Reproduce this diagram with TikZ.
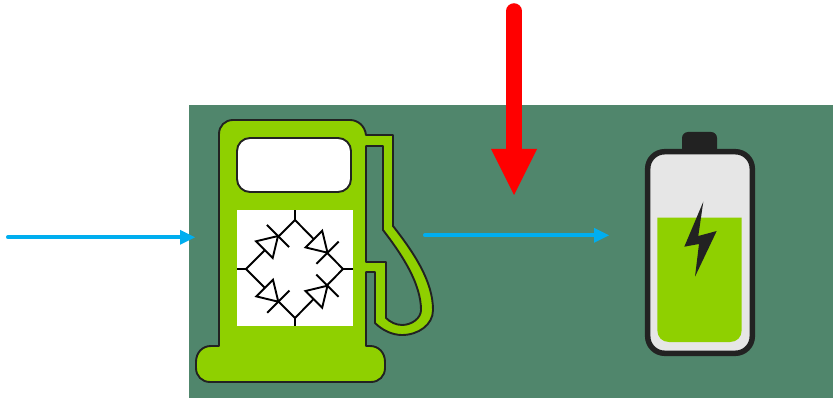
\documentclass[tikz,border=0pt]{standalone}
\usepackage{xcolor}
\usepackage{tikz}
\usetikzlibrary{arrows.meta}
\definecolor{panelgreen}{HTML}{50866C}
\definecolor{pumpgreen}{HTML}{8FD000}
\definecolor{outlinegray}{HTML}{222222}
\definecolor{cellgray}{HTML}{E6E6E6}
\definecolor{flowblue}{HTML}{00AEEF}
\tikzset{
    x=1pt, y=-1pt,
    pumpline/.style={draw=outlinegray, line width=1.9pt, line join=round},
    wire/.style={draw=black, line width=1.9pt},
    flow/.style={-{Triangle[length=15pt, width=15pt, line width=0pt]}, line width=4pt, draw=flowblue, line cap=round},
    heatflow/.style={-{Triangle[length=46pt, width=46pt, line width=0pt]}, line width=15.5pt, draw=red, line cap=round},
    diode/.pic={
        \draw[wire, fill=white, line join=miter] (0,0) -- (-19.3,11.8) -- (-19.3,-11.8) -- cycle;
        \draw[wire] (0,-15.7) -- (0,15.7);
    }
}
\begin{document}
\begin{tikzpicture}
    \useasboundingbox (0,0) rectangle (833,398);
    \fill[panelgreen] (189,105) rectangle (833,398);

    % pump
    \draw[pumpline, fill=pumpgreen] (219,346) -- (219,134) .. controls (219,126) and (225,120) .. (233,120)
        -- (350,120) .. controls (358,120) and (365,126) .. (366,135) -- (393,135) -- (393,226)
        .. controls (415,254) and (433,282) .. (433,310) .. controls (433,325) and (418,335) .. (402,335)
        .. controls (392,335) and (382,330) .. (375,323) -- (375,272) -- (366,272) -- (366,346)
        -- (370,346) .. controls (379,346) and (385,353) .. (385,362) -- (385,368) .. controls (385,376) and (379,382) .. (371,382)
        -- (210,382) .. controls (202,382) and (196,376) .. (196,368) -- (196,362) .. controls (196,353) and (202,346) .. (211,346) -- cycle;
    \draw[pumpline, fill=panelgreen] (366,146) -- (383,146) -- (383,230)
        .. controls (403,256) and (421,284) .. (421,310) .. controls (421,318) and (412,325) .. (402,325)
        .. controls (396,325) and (390,322) .. (386,318) -- (386,262) -- (366,262) -- cycle;
    \draw[pumpline, fill=white, rounded corners=13pt] (237,138) rectangle (351,192);
    \fill[white] (237,210) rectangle (352.5,326);

    % bridge
    \coordinate (top) at (295,220);
    \coordinate (left) at (246,269);
    \coordinate (right) at (343,269);
    \coordinate (bottom) at (295,318);
    \draw[wire] (top) -- (right) -- (bottom) -- (left) -- cycle;
    \draw[wire] (top) -- (295,210);
    \draw[wire] (bottom) -- (295,326);
    \draw[wire] (left) -- (237,269);
    \draw[wire] (right) -- (352.5,269);
    \pic[rotate=45] at (278,236) {diode};
    \pic[rotate=-45] at (327.5,252.7) {diode};
    \pic[rotate=-45] at (278.3,301.7) {diode};
    \pic[rotate=45] at (327.5,285.7) {diode};

    % battery
    \fill[outlinegray, rounded corners=6pt] (682,155) -- (682,132) -- (717,132) -- (717,155) -- cycle;
    \draw[outlinegray, line width=5.5pt, fill=cellgray, rounded corners=17pt] (647.7,151.7) rectangle (752.3,353.3);
    \fill[pumpgreen] (657.3,217.7) -- (741.7,217.7) -- (741.7,330) .. controls (741.7,337) and (737,342) .. (730,342)
        -- (669,342) .. controls (662,342) and (657.3,337) .. (657.3,330) -- cycle;
    \fill[outlinegray] (703.3,201.7) -- (684.3,246.7) -- (699,244) -- (695,276.7) -- (716.7,231) -- (698.3,236) -- cycle;

    % arrows
    \coordinate (inleft) at (8,237.3);
    \coordinate (intop) at (514,11);
    \coordinate (pumpin) at (195,237.3);
    \coordinate (pumpout) at (425,235.3);
    \coordinate (cellin) at (609,235.3);
    \coordinate (heatend) at (514,195);
    \draw[flow] (inleft) -- (pumpin);
    \draw[flow] (pumpout) -- (cellin);
    \draw[heatflow] (intop) -- (heatend);
\end{tikzpicture}
\end{document}
